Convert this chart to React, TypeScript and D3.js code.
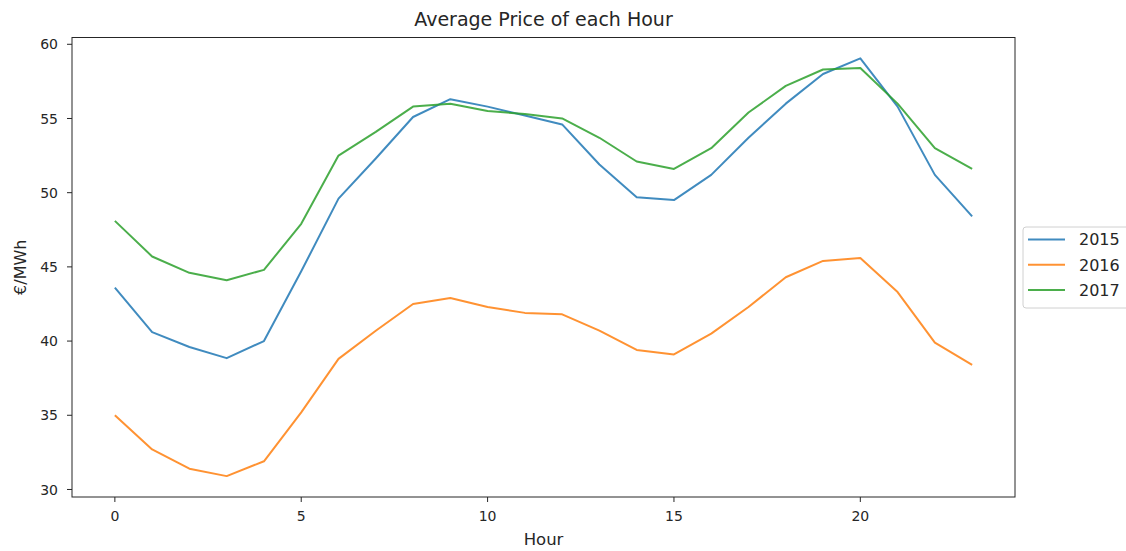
import React, { useEffect, useRef } from 'react';
import * as d3 from 'd3';

const hours = d3.range(0, 24);
const years = ['2015', '2016', '2017'];

const price2015 = [
  43.6, 40.6, 39.6, 38.85, 40.0, 44.7, 49.6, 52.3, 55.1, 56.3, 55.8, 55.2,
  54.6, 51.9, 49.7, 49.5, 51.2, 53.7, 56.0, 58.0, 59.05, 55.8, 51.2, 48.4
];
const price2016 = [
  35.0, 32.7, 31.4, 30.9, 31.9, 35.2, 38.8, 40.7, 42.5, 42.9, 42.3, 41.9,
  41.8, 40.7, 39.4, 39.1, 40.5, 42.3, 44.3, 45.4, 45.6, 43.3, 39.9, 38.4
];
const price2017 = [
  48.1, 45.7, 44.6, 44.1, 44.8, 47.9, 52.5, 54.1, 55.8, 56.0, 55.5, 55.3,
  55.0, 53.7, 52.1, 51.6, 53.0, 55.4, 57.2, 58.3, 58.4, 56.0, 53.0, 51.6
];

const xTicks = [0, 5, 10, 15, 20];
const yTicks = [30, 35, 40, 45, 50, 55, 60];
const colors = ['#1f77b4', '#ff7f0e', '#2ca02c'];

export default () => {
  const svgRef = useRef<SVGSVGElement>(null);

  const width = 1126;
  const height = 551;
  const left = 72;
  const right = 1015;
  const top = 37.5;
  const bottom = 497;
  const font = 'DejaVu Sans, sans-serif';
  const ink = '#262626';

  useEffect(() => {
    if (!svgRef.current) {
      return;
    }
    const svg = d3.select(svgRef.current);
    svg.selectAll('*').remove();

    const series = [price2015, price2016, price2017];
    const all = series.flat();
    const yMin = d3.min(all) || 0;
    const yMax = d3.max(all) || 0;
    const yPad = (yMax - yMin) * 0.05;
    const xPad = 23 * 0.05;

    const x = d3.scaleLinear().domain([-xPad, 23 + xPad]).range([left, right]);
    const y = d3.scaleLinear().domain([yMin - yPad, yMax + yPad]).range([bottom, top]);

    // lines
    const line = d3.line<number>()
      .x((_, i) => x(hours[i]))
      .y(d => y(d));

    svg.append('g')
      .selectAll('path')
      .data(series)
      .enter()
      .append('path')
      .attr('d', d => line(d))
      .attr('fill', 'none')
      .attr('stroke', (_, i) => colors[i])
      .attr('stroke-opacity', 0.85)
      .attr('stroke-width', 2)
      .attr('stroke-linejoin', 'round');

    // frame
    svg.append('rect')
      .attr('x', left)
      .attr('y', top)
      .attr('width', right - left)
      .attr('height', bottom - top)
      .attr('fill', 'none')
      .attr('stroke', ink)
      .attr('stroke-width', 1);

    // x axis
    const xAxis = svg.append('g');
    xAxis.selectAll('line')
      .data(xTicks)
      .enter()
      .append('line')
      .attr('x1', d => x(d))
      .attr('x2', d => x(d))
      .attr('y1', bottom)
      .attr('y2', bottom + 5)
      .attr('stroke', ink);
    xAxis.selectAll('text')
      .data(xTicks)
      .enter()
      .append('text')
      .text(d => d)
      .attr('x', d => x(d))
      .attr('y', 521)
      .attr('text-anchor', 'middle')
      .attr('style', `fill: ${ink}; font-size: 14px; font-family: ${font};`);

    // y axis
    const yAxis = svg.append('g');
    yAxis.selectAll('line')
      .data(yTicks)
      .enter()
      .append('line')
      .attr('x1', left - 5)
      .attr('x2', left)
      .attr('y1', d => y(d))
      .attr('y2', d => y(d))
      .attr('stroke', ink);
    yAxis.selectAll('text')
      .data(yTicks)
      .enter()
      .append('text')
      .text(d => d)
      .attr('x', left - 14)
      .attr('y', d => y(d))
      .attr('dy', '0.36em')
      .attr('text-anchor', 'end')
      .attr('style', `fill: ${ink}; font-size: 14px; font-family: ${font};`);

    // titles
    svg.append('text')
      .text('Average Price of each Hour')
      .attr('x', (left + right) / 2)
      .attr('y', 26)
      .attr('text-anchor', 'middle')
      .attr('style', `fill: ${ink}; font-size: 19px; font-family: ${font};`);
    svg.append('text')
      .text('Hour')
      .attr('x', (left + right) / 2)
      .attr('y', 545)
      .attr('text-anchor', 'middle')
      .attr('style', `fill: ${ink}; font-size: 16.5px; font-family: ${font};`);
    svg.append('text')
      .text('€/MWh')
      .attr('transform', `translate(26, ${(top + bottom) / 2}) rotate(-90)`)
      .attr('text-anchor', 'middle')
      .attr('style', `fill: ${ink}; font-size: 16px; font-family: ${font};`);

    // legend
    const legend = svg.append('g').attr('transform', 'translate(1023, 227)');
    legend.append('rect')
      .attr('x', 0)
      .attr('y', 0)
      .attr('width', 120)
      .attr('height', 81)
      .attr('rx', 3)
      .attr('fill', 'white')
      .attr('fill-opacity', 0.8)
      .attr('stroke', '#d0d0d0');
    const rows = legend.selectAll('g.row')
      .data(years)
      .enter()
      .append('g')
      .attr('class', 'row')
      .attr('transform', (_, i) => `translate(0, ${12.5 + i * 25.3})`);
    rows.append('line')
      .attr('x1', 5)
      .attr('x2', 42)
      .attr('stroke', (_, i) => colors[i])
      .attr('stroke-opacity', 0.85)
      .attr('stroke-width', 2);
    rows.append('text')
      .text(d => d)
      .attr('x', 56)
      .attr('dy', '0.36em')
      .attr('style', `fill: ${ink}; font-size: 16px; font-family: ${font};`);
  }, []);

  return (
    <svg
      ref={svgRef}
      width={width}
      height={height}
      style={{ position: 'absolute', left: 0, top: 0, background: 'white' }}
    />
  );
};
